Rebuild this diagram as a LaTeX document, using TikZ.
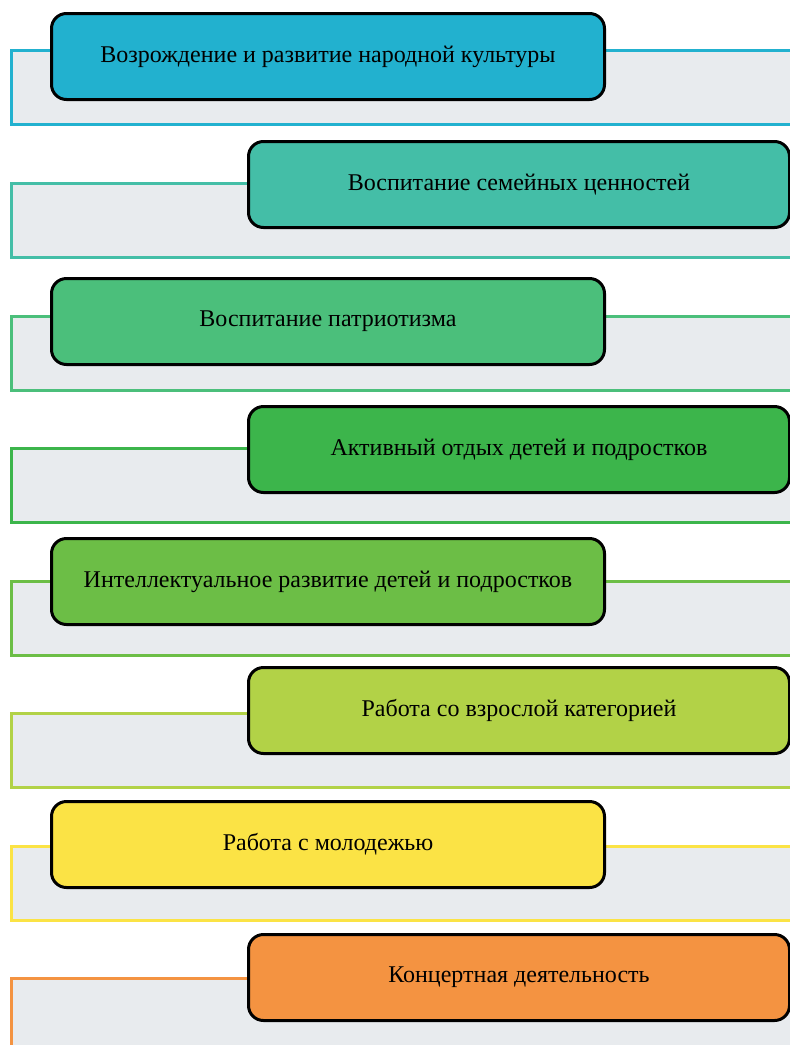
\documentclass[tikz,border=0pt]{standalone}
\usepackage{fontspec}
\setmainfont{Liberation Serif}
\usetikzlibrary{positioning}

\definecolor{bandgray}{HTML}{E8EBEE}
\definecolor{colA}{HTML}{22B1CF}
\definecolor{colB}{HTML}{44BEA7}
\definecolor{colC}{HTML}{4BBF7B}
\definecolor{colD}{HTML}{3CB54B}
\definecolor{colE}{HTML}{6CBE46}
\definecolor{colF}{HTML}{B2D247}
\definecolor{colG}{HTML}{FBE345}
\definecolor{colH}{HTML}{F49341}

\begin{document}
\begin{tikzpicture}[
    x=1pt, y=-1pt,
    band/.style={rectangle, draw=#1, fill=bandgray, line width=2.5pt, minimum width=800pt, minimum height=74pt, anchor=north west},
    item/.style={rectangle, rounded corners=15pt, draw=black, line width=3pt, fill=#1, minimum width=553pt, minimum height=86pt, anchor=north west, align=center, font=\fontsize{24}{28}\selectfont}
]
\useasboundingbox (0,0) rectangle (790,1045);
\clip (0,0) rectangle (790,1045);

% Bands
\node[band=colA] (band1) at (10,49) {};
\node[band=colB] (band2) at (10,182) {};
\node[band=colC] (band3) at (10,315) {};
\node[band=colD] (band4) at (10,447) {};
\node[band=colE] (band5) at (10,580) {};
\node[band=colF] (band6) at (10,712) {};
\node[band=colG] (band7) at (10,845) {};
\node[band=colH] (band8) at (10,977) {};

% Boxes
\node[item=colA] (culture) at (50,12) {Возрождение и развитие народной культуры};
\node[item=colB, minimum width=541pt] (family) at (247,140) {Воспитание семейных ценностей};
\node[item=colC] (patriot) at (50,277) {Воспитание патриотизма};
\node[item=colD, minimum width=541pt] (leisure) at (247,405) {Активный отдых детей и подростков};
\node[item=colE] (intellect) at (50,537) {Интеллектуальное развитие детей и подростков};
\node[item=colF, minimum width=541pt] (adults) at (247,666) {Работа со взрослой категорией};
\node[item=colG] (youth) at (50,800) {Работа с молодежью};
\node[item=colH, minimum width=541pt] (concert) at (247,933) {Концертная деятельность};

\end{tikzpicture}
\end{document}
